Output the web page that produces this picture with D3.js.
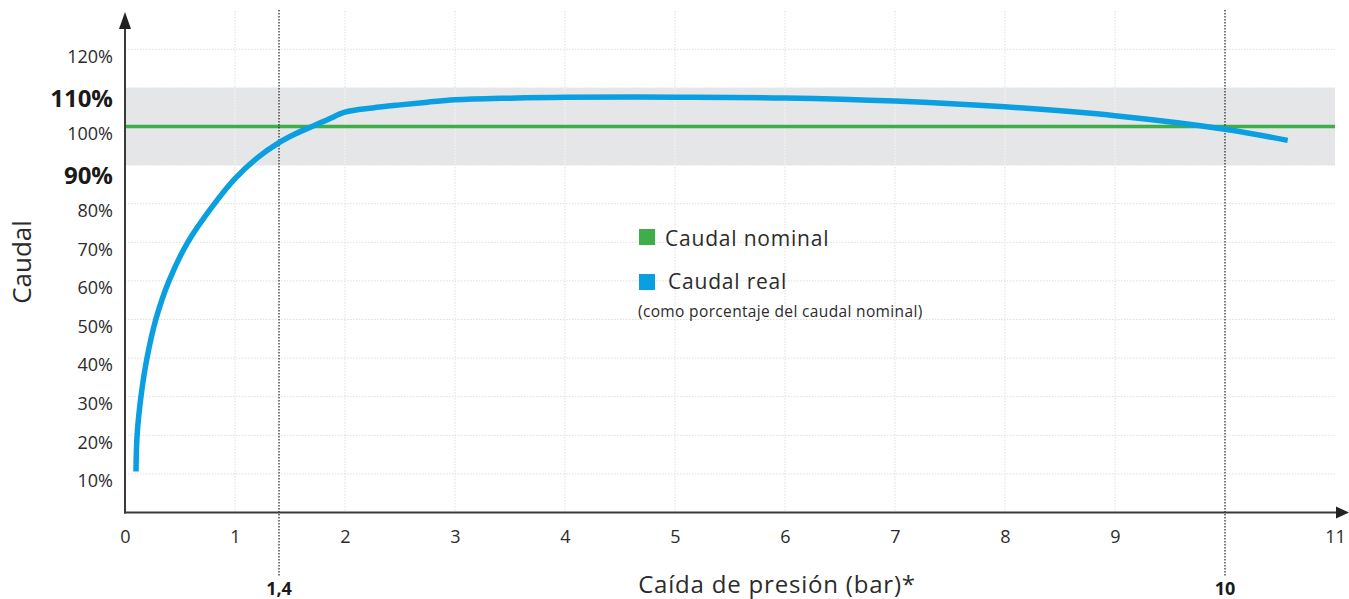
<!DOCTYPE html>
<html><head><meta charset="utf-8">
<script src="https://cdn.jsdelivr.net/npm/d3@7"></script>
<style>body{margin:0;background:#fff} svg text{font-family:"Open Sans", Lato, sans-serif; fill:#2b2b2b}</style>
</head><body><svg id="c" width="1349" height="599"></svg>
<script>
const pressure = [0.1, 0.11, 0.145, 0.2, 0.28, 0.4, 0.57, 0.8, 1.0, 1.2, 1.4, 1.55, 1.7, 1.85, 2.0, 2.25, 2.5, 2.75, 3, 3.5, 4, 5, 6, 7, 8, 9, 10, 10.57];
const flow     = [10.6, 20, 30, 40, 50, 60, 70, 79.5, 86.5, 91.8, 95.8, 98.1, 100, 101.9, 103.7, 104.8, 105.6, 106.3, 106.9, 107.35, 107.6, 107.6, 107.4, 106.6, 105.1, 102.8, 99.3, 96.4];
const xTickValues = [0,1,2,3,4,5,6,7,8,9,11];
const xGridValues = [1,2,3,4,5,6,7,8,9];
const yTickValues = [10,20,30,40,50,60,70,80,90,100,110,120];
const boldY = [90,110];
const markerX = [1.4, 10];
const markerLabels = ["1,4", "10"];
const nominal = 100;
const bandRange = [90, 110];
const legendItems = ["Caudal nominal", "Caudal real"];
const legendNote = "(como porcentaje del caudal nominal)";
const xTitle = "Caída de presión (bar)*";
const yTitle = "Caudal";

const svg = d3.select("#c");
const x = d3.scaleLinear().domain([0, 11]).range([125, 1335]);
const y = d3.scaleLinear().domain([0, 120]).range([512.5, 49.3]);
const green = "#3dae4a", blue = "#0a9fe0", axisCol = "#3a3a3a";

// gray gridlines
const grid = svg.append("g");
grid.selectAll(".vg").data(xGridValues).enter().append("line")
  .attr("x1", d => x(d)).attr("x2", d => x(d)).attr("y1", 11).attr("y2", y(0))
  .attr("stroke", "#dedede").attr("stroke-width", 1).attr("stroke-dasharray", "1.5,1.5");
grid.selectAll(".hg").data(yTickValues).enter().append("line")
  .attr("x1", x(0)).attr("x2", x(11)).attr("y1", d => y(d)).attr("y2", d => y(d))
  .attr("stroke", "#dedede").attr("stroke-width", 1).attr("stroke-dasharray", "1.5,1.5");

// band
svg.append("rect").attr("x", x(0)).attr("width", x(11) - x(0))
  .attr("y", y(bandRange[1])).attr("height", y(bandRange[0]) - y(bandRange[1]))
  .attr("fill", "#e5e6e8");
svg.append("g").selectAll("line").data(xGridValues).enter().append("line")
  .attr("x1", d => x(d)).attr("x2", d => x(d)).attr("y1", y(bandRange[1])).attr("y2", y(bandRange[0]))
  .attr("stroke", "#f6f6f6").attr("stroke-width", 1.2).attr("stroke-dasharray", "1.5,1.5");

// nominal line
svg.append("line").attr("x1", x(0)).attr("x2", x(11)).attr("y1", y(nominal)).attr("y2", y(nominal))
  .attr("stroke", green).attr("stroke-width", 3.5);

// dotted markers
svg.append("g").selectAll("line").data(markerX).enter().append("line")
  .attr("x1", d => x(d)).attr("x2", d => x(d)).attr("y1", 10).attr("y2", 577)
  .attr("stroke", "#222").attr("stroke-width", 1.2).attr("stroke-dasharray", "1.5,1.5");

// curve
const pts = pressure.map((p, i) => [p, flow[i]]);
svg.append("path").datum(pts)
  .attr("d", d3.line().x(d => x(d[0])).y(d => y(d[1])).curve(d3.curveCatmullRom.alpha(0.5)))
  .attr("fill", "none").attr("stroke", blue).attr("stroke-width", 5.5);

// axes lines with arrows
svg.append("line").attr("x1", x(0)).attr("x2", x(0)).attr("y1", y(0) + 1).attr("y2", 27)
  .attr("stroke", axisCol).attr("stroke-width", 2);
svg.append("path").attr("d", `M${x(0)},12 L${x(0) - 6},29 L${x(0) + 6},29 Z`).attr("fill", "#222");
svg.append("line").attr("x1", x(0) - 1).attr("x2", 1338).attr("y1", y(0)).attr("y2", y(0))
  .attr("stroke", axisCol).attr("stroke-width", 2);
svg.append("path").attr("d", `M1349,${y(0)} L1336,${y(0) - 6} L1336,${y(0) + 6} Z`).attr("fill", "#222");

// y axis labels
const ya = svg.append("g").attr("transform", `translate(${x(0)},0)`)
  .call(d3.axisLeft(y).tickValues(yTickValues).tickSize(0).tickPadding(12).tickFormat(d => d + "%"));
ya.select(".domain").remove();
ya.selectAll("text")
  .attr("y", d => boldY.includes(d) ? 11 : 7)
  .style("font-size", d => boldY.includes(d) ? "24px" : "18px")
  .style("font-weight", d => boldY.includes(d) ? "700" : "400")
  .style("fill", d => boldY.includes(d) ? "#1a1a1a" : "#2b2b2b");

// x axis labels
const xa = svg.append("g").attr("transform", `translate(0,${y(0)})`)
  .call(d3.axisBottom(x).tickValues(xTickValues).tickSize(0).tickFormat(d3.format("d")));
xa.select(".domain").remove();
xa.selectAll("text").attr("y", 24.5).attr("dy", "0.35em").style("font-size", "18px");

// marker labels
svg.append("g").selectAll("text").data(markerX).enter().append("text")
  .attr("x", d => x(d)).attr("y", 595).attr("text-anchor", "middle")
  .style("font-size", "18px").style("font-weight", "700").style("fill", "#1a1a1a")
  .text((d, i) => markerLabels[i]);

// titles
svg.append("text").attr("x", 777).attr("y", 593).attr("text-anchor", "middle")
  .style("font-size", "24px").style("letter-spacing", "0.8px").text(xTitle);
svg.append("text").attr("transform", "translate(31,262) rotate(-90)").attr("text-anchor", "middle")
  .style("font-size", "26px").text(yTitle);

// legend
const leg = svg.append("g");
const legColors = [green, blue];
const legY = [229, 274];
const legTx = [665, 668];
const legBase = [246, 289];
legendItems.forEach((t, i) => {
  leg.append("rect").attr("x", 639).attr("y", legY[i]).attr("width", 16).attr("height", 16).attr("fill", legColors[i]);
  leg.append("text").attr("x", legTx[i]).attr("y", legBase[i]).style("font-size", "21px")
    .style("letter-spacing", "0.8px").text(t);
});
leg.append("text").attr("x", 638).attr("y", 317).style("font-size", "15.5px")
  .style("letter-spacing", "0.35px").text(legendNote);
</script></body></html>
